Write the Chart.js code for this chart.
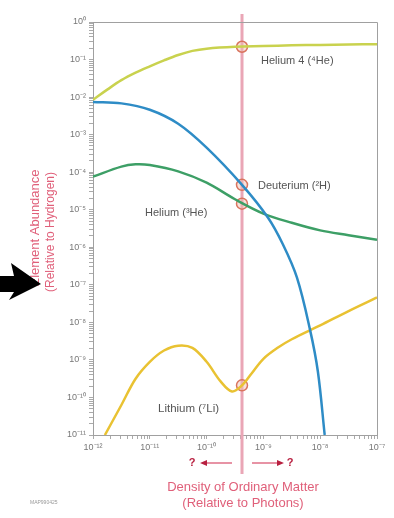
<!DOCTYPE html>
<html lang="en">
<head>
  <meta charset="UTF-8">
  <title>Element Abundance vs Density of Ordinary Matter</title>
  <style>
    html, body { margin: 0; padding: 0; background: #fff; }
    #wrap { width: 394px; height: 518px; }
  </style>
</head>
<body>
  <div id="wrap"><canvas id="chart" width="394" height="518"></canvas></div>
  <script src="https://cdn.jsdelivr.net/npm/chart.js"></script>
  <script>
    // density of ordinary matter relative to photons (x) and abundance relative to hydrogen (y)
    const helium4X = [1e-12, 1.78e-12, 3.16e-12, 5.62e-12, 1e-11, 1.78e-11, 3.16e-11, 5.62e-11, 1e-10, 3.16e-10, 1e-9, 3.16e-9, 1e-8, 3.16e-8, 1e-7];
    const helium4Y = [8.5e-3, 1.58e-2, 2.82e-2, 4.47e-2, 6.6e-2, 9.5e-2, 0.132, 0.17, 0.195, 0.219, 0.229, 0.24, 0.245, 0.251, 0.257];

    const deuteriumX = [1e-12, 3.16e-12, 1e-11, 3.16e-11, 1e-10, 4.2e-10, 1.2e-9, 2.2e-9, 3.9e-9, 6.6e-9, 9.1e-9, 1.2e-8];
    const deuteriumY = [7.4e-3, 6.8e-3, 4.6e-3, 1.95e-3, 4.5e-4, 4.6e-5, 6.2e-6, 1.2e-6, 1.55e-7, 6.5e-9, 4.9e-10, 1e-11];

    const helium3X = [1e-12, 3.16e-12, 5.62e-12, 1e-11, 3.16e-11, 1e-10, 3.16e-10, 1e-9, 3.16e-9, 1e-8, 3.16e-8, 1e-7];
    const helium3Y = [7.6e-5, 1.41e-4, 1.62e-4, 1.55e-4, 1.05e-4, 5.25e-5, 1.9e-5, 7.9e-6, 4.5e-6, 2.82e-6, 2.1e-6, 1.58e-6];

    const lithiumX = [1.62e-12, 3.16e-12, 5.62e-12, 1e-11, 1.78e-11, 3.16e-11, 5.62e-11, 1e-10, 1.78e-10, 2.8e-10, 4.2e-10, 6.3e-10, 1e-9, 1.78e-9, 3.16e-9, 1e-8, 3.16e-8, 1e-7];
    const lithiumY = [1e-11, 6.3e-11, 3.16e-10, 8.9e-10, 1.78e-9, 2.4e-9, 2.1e-9, 8.9e-10, 2.63e-10, 1.45e-10, 2.1e-10, 4.5e-10, 1.07e-9, 2.1e-9, 3.55e-9, 8.3e-9, 2e-8, 4.6e-8];

    // measured density and the abundances it gives (circles on the pink line)
    const measuredDensity = 4.2e-10;
    const measuredY = [0.219, 4.6e-5, 1.45e-5, 2.1e-10];

    const xTickExps = [-12, -11, -10, -9, -8, -7];
    const yTickExps = [0, -1, -2, -3, -4, -5, -6, -7, -8, -9, -10, -11];

    const FONT = "'Liberation Sans', Arial, sans-serif";
    const SUP = { '-': '⁻', '0': '⁰', '1': '¹', '2': '²', '3': '³', '4': '⁴', '5': '⁵', '6': '⁶', '7': '⁷', '8': '⁸', '9': '⁹' };

    function powLabel(v) {
      const e = Math.round(Math.log10(v));
      if (Math.abs(Math.log10(v) - e) > 1e-6) return '';
      return '10' + String(e).split('').map(c => SUP[c]).join('');
    }

    function logTicks(exps) {
      const lo = Math.min(...exps), hi = Math.max(...exps);
      const t = [];
      for (let e = lo; e <= hi; e++) {
        t.push({ value: Math.pow(10, e), major: true });
        if (e < hi) for (let m = 2; m <= 9; m++) t.push({ value: m * Math.pow(10, e), major: false });
      }
      return t;
    }

    function line(label, xs, ys, color) {
      return {
        label,
        data: xs.map((x, i) => ({ x, y: ys[i] })),
        borderColor: color,
        borderWidth: 2.5,
        pointRadius: 0,
        tension: 0.35,
        fill: false
      };
    }

    const decor = {
      id: 'decor',
      beforeDatasetsDraw(chart) {
        const ctx = chart.ctx;
        const x = chart.scales.x.getPixelForValue(measuredDensity);
        ctx.save();
        ctx.strokeStyle = '#eaa6b6';
        ctx.lineWidth = 3;
        ctx.beginPath();
        ctx.moveTo(x, 14);
        ctx.lineTo(x, 474);
        ctx.stroke();
        ctx.restore();
      },
      afterDraw(chart) {
        const ctx = chart.ctx;
        const a = chart.chartArea;
        const x = chart.scales.x.getPixelForValue(measuredDensity);
        ctx.save();
        // frame top/right
        ctx.strokeStyle = '#a0a0a0';
        ctx.lineWidth = 1;
        ctx.beginPath();
        ctx.moveTo(a.left, a.top + 0.5);
        ctx.lineTo(a.right + 0.5, a.top + 0.5);
        ctx.lineTo(a.right + 0.5, a.bottom);
        ctx.stroke();

        // curve labels
        ctx.fillStyle = '#555';
        ctx.font = '11px ' + FONT;
        ctx.textBaseline = 'middle';
        ctx.textAlign = 'left';
        ctx.fillText('Helium 4 (⁴He)', 261, 61);
        ctx.fillText('Deuterium (²H)', 258, 186);
        ctx.fillText('Helium (³He)', 145, 213);
        ctx.font = '11.5px ' + FONT;
        ctx.fillText('Lithium (⁷Li)', 158, 409);

        // y axis title
        ctx.fillStyle = '#e0607a';
        ctx.textAlign = 'center';
        ctx.save();
        ctx.translate(35, 228);
        ctx.rotate(-Math.PI / 2);
        ctx.font = '13px ' + FONT;
        ctx.fillText('Element Abundance', 0, 0);
        ctx.restore();
        ctx.save();
        ctx.translate(51, 232);
        ctx.rotate(-Math.PI / 2);
        ctx.font = '12px ' + FONT;
        ctx.fillText('(Relative to Hydrogen)', 0, 0);
        ctx.restore();

        // x axis title
        ctx.font = '13px ' + FONT;
        ctx.fillText('Density of Ordinary Matter', x + 1, 487);
        ctx.fillText('(Relative to Photons)', x + 1, 503);

        // ? arrows
        ctx.fillStyle = '#b82040';
        ctx.strokeStyle = '#e07088';
        ctx.lineWidth = 1.5;
        ctx.font = 'bold 11px ' + FONT;
        ctx.fillText('?', x - 50, 463);
        ctx.fillText('?', x + 48, 463);
        ctx.beginPath();
        ctx.moveTo(x - 38, 463); ctx.lineTo(x - 10, 463);
        ctx.moveTo(x + 10, 463); ctx.lineTo(x + 38, 463);
        ctx.stroke();
        ctx.beginPath();
        ctx.moveTo(x - 42, 463); ctx.lineTo(x - 35, 460); ctx.lineTo(x - 35, 466); ctx.closePath();
        ctx.moveTo(x + 42, 463); ctx.lineTo(x + 35, 460); ctx.lineTo(x + 35, 466); ctx.closePath();
        ctx.fill();

        // big black pointer arrow
        ctx.fillStyle = '#000';
        ctx.beginPath();
        ctx.moveTo(0, 276);
        ctx.lineTo(14, 276);
        ctx.lineTo(11, 263);
        ctx.lineTo(41, 284);
        ctx.lineTo(9, 300);
        ctx.lineTo(14, 292);
        ctx.lineTo(0, 292);
        ctx.closePath();
        ctx.fill();

        // small id text
        ctx.fillStyle = '#999';
        ctx.font = '5px ' + FONT;
        ctx.textAlign = 'left';
        ctx.fillText('MAP990425', 30, 503);
        ctx.restore();
      }
    };

    const axisCommon = {
      type: 'logarithmic',
      border: { color: '#a0a0a0', width: 1 },
      grid: { drawOnChartArea: false, drawTicks: true, tickLength: 4, color: '#aaa' },
      ticks: {
        autoSkip: false,
        maxRotation: 0,
        color: '#777',
        font: { family: FONT, size: 9 },
        callback: v => powLabel(v)
      }
    };

    new Chart(document.getElementById('chart'), {
      type: 'line',
      data: {
        datasets: [
          line('Helium 4', helium4X, helium4Y, '#c9d24e'),
          line('Deuterium', deuteriumX, deuteriumY, '#2e8cc6'),
          line('Helium 3', helium3X, helium3Y, '#3d9f66'),
          line('Lithium', lithiumX, lithiumY, '#e9c232'),
          {
            label: 'measured',
            data: measuredY.map(y => ({ x: measuredDensity, y })),
            showLine: false,
            pointRadius: 5.5,
            pointBorderWidth: 1.5,
            pointBorderColor: '#d9745e',
            pointBackgroundColor: 'rgba(240,190,175,0.45)'
          }
        ]
      },
      options: {
        responsive: false,
        animation: false,
        devicePixelRatio: 1,
        layout: { padding: { left: 63, right: 17, top: 22, bottom: 0 } },
        plugins: { legend: { display: false }, tooltip: { enabled: false } },
        scales: {
          x: Object.assign({}, axisCommon, {
            min: 1e-12, max: 1e-7,
            ticks: Object.assign({}, axisCommon.ticks, { padding: 3 }),
            afterBuildTicks: s => { s.ticks = logTicks(xTickExps); },
            afterFit: s => { s.height = 83; }
          }),
          y: Object.assign({}, axisCommon, {
            min: 1e-11, max: 1,
            ticks: Object.assign({}, axisCommon.ticks, { padding: 3 }),
            afterBuildTicks: s => { s.ticks = logTicks(yTickExps); },
            afterFit: s => { s.width = 30; }
          })
        }
      },
      plugins: [decor]
    });
  </script>
</body>
</html>
